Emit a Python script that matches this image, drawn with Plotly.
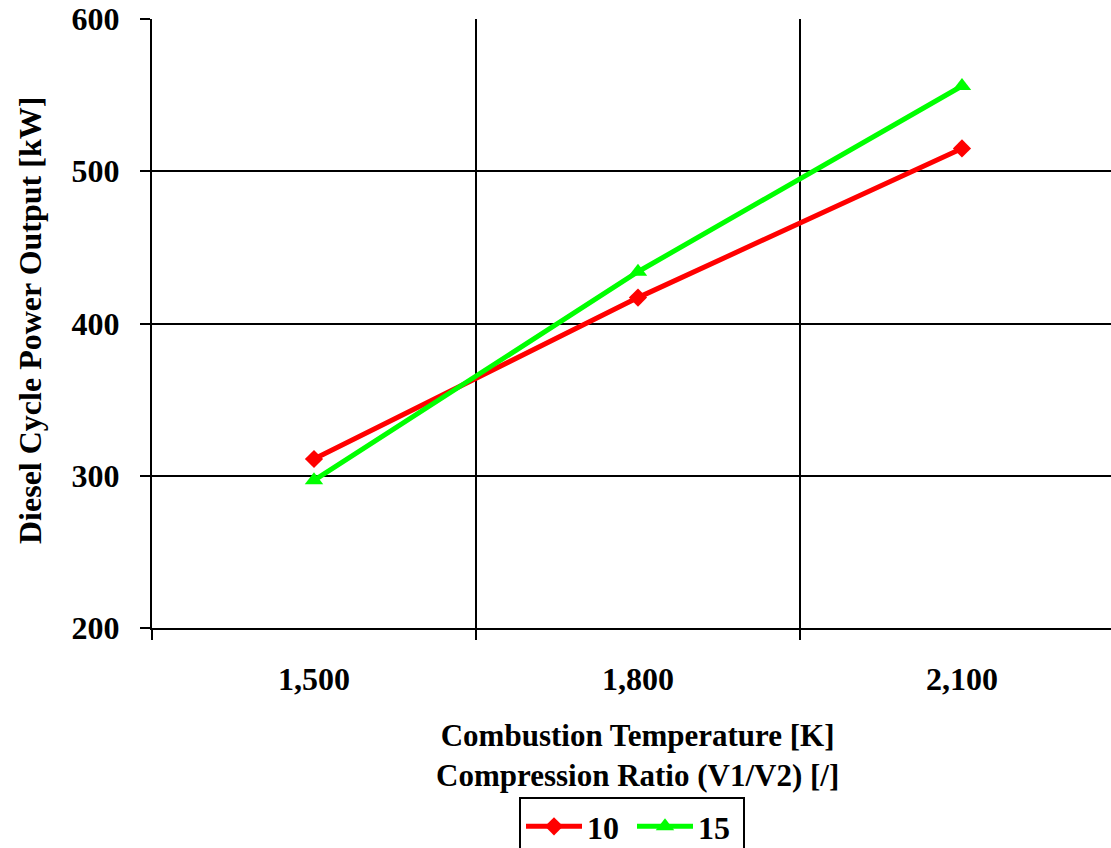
import plotly.graph_objects as go

temps = ["1,500", "1,800", "2,100"]
ratio10 = [311, 417, 515]
ratio15 = [297, 434, 556]
y_ticks = [200, 300, 400, 500, 600]

FONT = "Liberation Serif"

W, H = 1111, 848
L, T, PH = 152, 19, 609
PW = W - L

fig = go.Figure()
fig.add_trace(go.Scatter(x=temps, y=ratio10, name="10", mode="lines+markers",
                         line=dict(color="#ff0000", width=5),
                         marker=dict(symbol="diamond", size=14, color="#ff0000")))
fig.add_trace(go.Scatter(x=temps, y=ratio15, name="15", mode="lines+markers",
                         line=dict(color="#00ff00", width=5),
                         marker=dict(symbol="triangle-up", size=16, color="#00ff00")))

fig.update_layout(
    width=W, height=H,
    margin=dict(l=L, r=0, t=T, b=H - T - PH, autoexpand=False),
    paper_bgcolor="white", plot_bgcolor="white",
    font=dict(family=FONT, color="black", size=32, weight="bold"),
    showlegend=True,
    legend=dict(orientation="h", x=(632 - L) / PW, xanchor="center",
                y=(628 - 797) / PH, yanchor="top",
                bordercolor="black", borderwidth=2,
                font=dict(family=FONT, size=32, weight="bold", color="black"),
                entrywidth=40, itemwidth=56),
)
fig.update_xaxes(
    type="category", range=[-0.5, 2.46], tickson="boundaries",
    ticks="outside", ticklen=10, tickwidth=2, tickcolor="black",
    showgrid=True, gridcolor="black", gridwidth=2,
    showline=True, linecolor="black", linewidth=2,
    ticklabelstandoff=22, tickfont=dict(family=FONT, size=32, weight="bold"),
    zeroline=False, automargin=False, ticklabeloverflow="allow",
)
fig.update_yaxes(
    range=[200, 600], tickvals=y_ticks,
    ticks="outside", ticklen=10, tickwidth=2, tickcolor="black",
    showgrid=True, gridcolor="black", gridwidth=2,
    showline=True, linecolor="black", linewidth=2,
    ticklabelstandoff=14, tickfont=dict(family=FONT, size=32, weight="bold"),
    zeroline=False, automargin=False, ticklabeloverflow="allow",
)
fig.add_annotation(text="Combustion Temperature [K]<br>Compression Ratio (V1/V2) [/]",
                   xref="x", x=1, yref="paper", y=(628 - 755) / PH,
                   yanchor="middle", showarrow=False,
                   font=dict(family=FONT, size=31, weight="bold"))
fig.add_annotation(text="Diesel Cycle Power Output [kW]", textangle=-90,
                   xref="paper", x=(30 - L) / PW, yref="paper", y=(628 - 321) / PH,
                   xanchor="center", yanchor="middle", showarrow=False,
                   font=dict(family=FONT, size=32, weight="bold"))

fig.write_html("out.html", config={"displayModeBar": False},
               post_script="document.body.style.margin='0';document.body.style.overflow='hidden';")
